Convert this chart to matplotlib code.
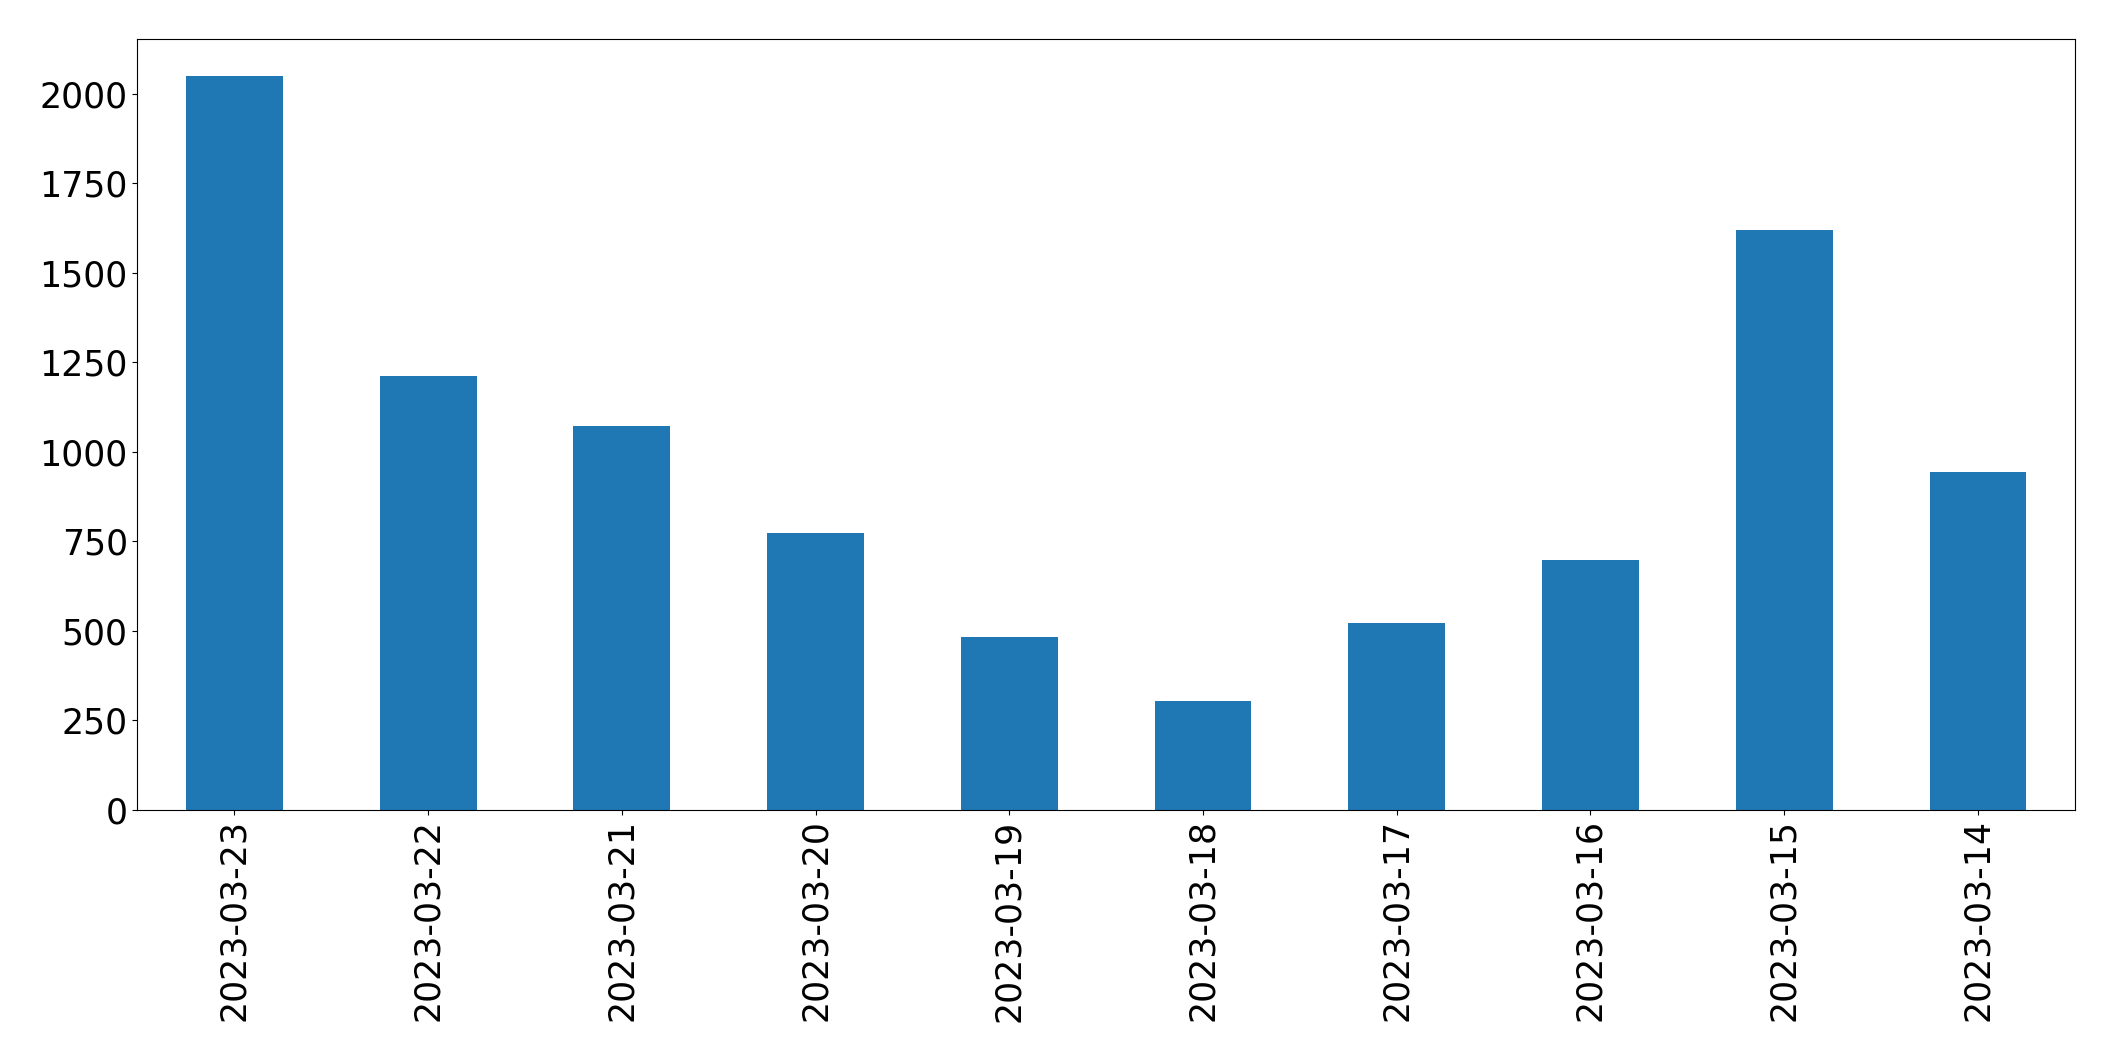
import pandas as pd
import matplotlib
matplotlib.use("Agg")
import matplotlib.pyplot as plt

dates = ["2023-03-23", "2023-03-22", "2023-03-21", "2023-03-20", "2023-03-19",
         "2023-03-18", "2023-03-17", "2023-03-16", "2023-03-15", "2023-03-14"]
counts = [2050, 1211, 1072, 774, 483, 302, 521, 698, 1620, 943]

s = pd.Series(counts, index=dates)

fig, ax = plt.subplots(figsize=(21.15, 10.61), dpi=100)
s.plot(kind="bar", ax=ax, color="#1f77b4")
ax.tick_params(axis="both", labelsize=25)
fig.subplots_adjust(left=0.065, right=0.981, top=0.963, bottom=0.237)
fig.savefig("out.png", dpi=100)
